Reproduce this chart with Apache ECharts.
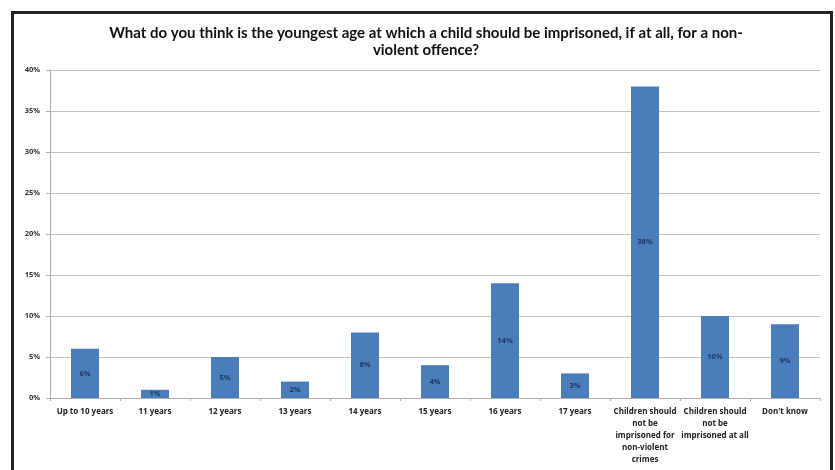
<!DOCTYPE html>
<html>
<head>
<meta charset="utf-8">
<script src="https://cdn.jsdelivr.net/npm/echarts@6/dist/echarts.min.js"></script>
<style>
  html, body { margin: 0; padding: 0; background: #ffffff; }
  #chart { width: 835px; height: 470px; }
</style>
</head>
<body>
<div id="chart"></div>
<script>
// Survey answers: youngest age at which a child should be imprisoned
const categories = [
  'Up to 10 years', '11 years', '12 years', '13 years', '14 years',
  '15 years', '16 years', '17 years',
  'Children should\nnot be\nimprisoned for\nnon-violent\ncrimes',
  'Children should\nnot be\nimprisoned at all',
  "Don't know"
];
const shares = [6, 1, 5, 2, 8, 4, 14, 3, 38, 10, 9];
const yTicks = [0, 5, 10, 15, 20, 25, 30, 35, 40];

const titleText = 'What do you think is the youngest age at which a child should be imprisoned, if at all, for a non-\nviolent offence?';

const chart = echarts.init(document.getElementById('chart'), null, { renderer: 'canvas' });

chart.setOption({
  backgroundColor: '#ffffff',
  animation: false,
  title: {
    text: titleText,
    left: 421,
    top: 20,
    textAlign: 'center',
    textStyle: {
      fontFamily: 'Lato',
      fontSize: 15,
      fontWeight: 'bold',
      color: '#111111',
      lineHeight: 17
    }
  },
  graphic: [{
    type: 'rect',
    shape: { x: 12.5, y: 12.5, width: 819, height: 470 },
    style: { fill: null, stroke: '#222222', lineWidth: 3 },
    silent: true,
    z: 100
  }],
  grid: { left: 50, right: 15, top: 70, bottom: 72, containLabel: false },
  xAxis: {
    type: 'category',
    data: categories,
    boundaryGap: true,
    axisLine: { show: true, lineStyle: { color: '#b9aca6', width: 1 } },
    axisTick: { show: true, length: 3, lineStyle: { color: '#b9aca6' } },
    axisLabel: {
      interval: 0,
      fontFamily: 'Open Sans',
      fontSize: 8,
      fontWeight: 'bold',
      color: '#222222',
      lineHeight: 12,
      margin: 8
    }
  },
  yAxis: {
    type: 'value',
    min: 0,
    max: 40,
    interval: 5,
    axisLine: { show: true, lineStyle: { color: '#b9aca6', width: 1 } },
    axisTick: { show: true, length: 4, lineStyle: { color: '#b9aca6' } },
    splitLine: { show: true, lineStyle: { color: '#c9beb9', width: 1.2 } },
    axisLabel: {
      fontFamily: 'Open Sans',
      fontSize: 7.5,
      fontWeight: 'bold',
      color: '#333333',
      margin: 10,
      formatter: function (v) { return yTicks.indexOf(v) >= 0 ? v + '%' : ''; }
    }
  },
  series: [{
    type: 'bar',
    data: shares,
    barWidth: '40%',
    itemStyle: { color: '#4a7ebb' },
    label: {
      show: true,
      position: 'inside',
      formatter: '{c}%',
      fontFamily: 'Open Sans',
      fontSize: 7.5,
      fontWeight: 'bold',
      color: '#1c355e'
    }
  }]
});
</script>
</body>
</html>
